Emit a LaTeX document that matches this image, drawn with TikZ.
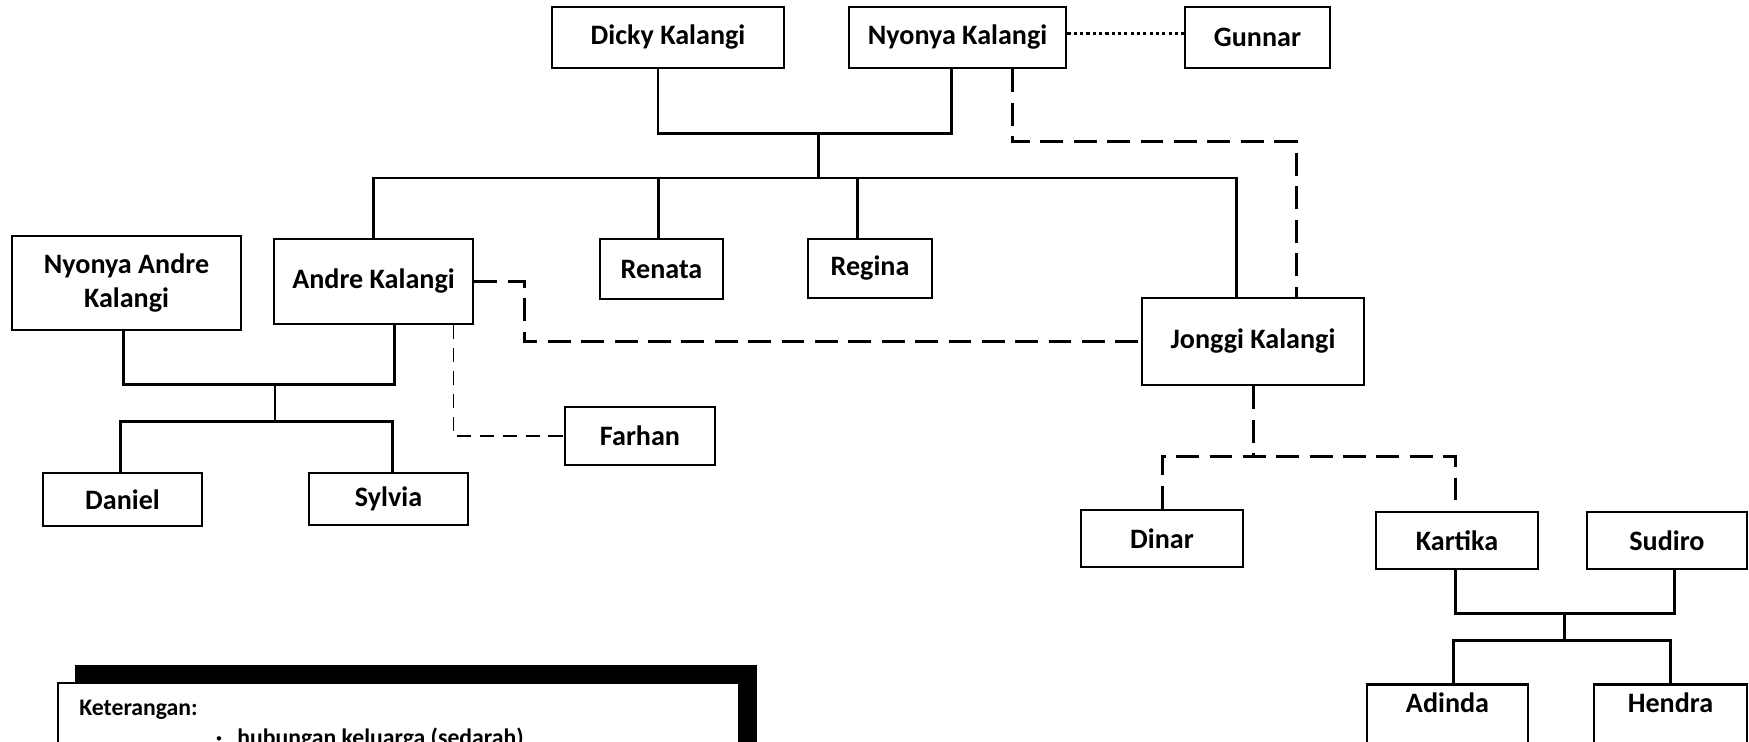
\documentclass[tikz,border=0pt]{standalone}
\usepackage{fontspec}
\setmainfont{Carlito}
\usetikzlibrary{calc}

\begin{document}
\begin{tikzpicture}[
    x=0.02cm, y=-0.02cm,
    person/.style={
        draw,
        line width=1.6pt,
        inner sep=0pt,
        align=center,
        font=\fontsize{16}{19}\selectfont\bfseries
    },
    famline/.style={line width=1.7pt},
    kin/.style={line width=1.7pt, dash pattern=on 13pt off 6pt},
    kinthin/.style={line width=1.1pt, dash pattern=on 8pt off 5pt},
    partner/.style={line width=2pt, dash pattern=on 1.8pt off 1.8pt},
    legendtext/.style={font=\fontsize{13.5}{16}\selectfont\bfseries, inner sep=0pt}
]

\useasboundingbox (0,0) rectangle (1749,741);
\clip (0,0) rectangle (1749,741);

% First generation and the partner outside the marriage.
\node[person, minimum width=4.64cm, minimum height=1.22cm] (dicky) at (668,37.5) {Dicky Kalangi};
\node[person, minimum width=4.34cm, minimum height=1.22cm] (nyonya) at (957.5,37.5) {Nyonya Kalangi};
\node[person, minimum width=2.90cm, minimum height=1.22cm] (gunnar) at (1257.5,37.5) {Gunnar};

% Children of Dicky and Nyonya Kalangi.
\node[person, minimum width=4.58cm, minimum height=1.88cm] (nyandre) at (126.5,283) {Nyonya Andre\\Kalangi};
\node[person, minimum width=3.98cm, minimum height=1.70cm] (andre) at (373.5,281.5) {Andre Kalangi};
\node[person, minimum width=2.46cm, minimum height=1.20cm] (renata) at (661.5,269) {Renata};
\node[person, minimum width=2.48cm, minimum height=1.18cm] (regina) at (870,268.5) {Regina};
\node[person, minimum width=4.44cm, minimum height=1.74cm] (jonggi) at (1253,341.5) {Jonggi Kalangi};

% Third generation.
\node[person, minimum width=3.00cm, minimum height=1.16cm] (farhan) at (640,436) {Farhan};
\node[person, minimum width=3.18cm, minimum height=1.06cm] (daniel) at (122.5,499.5) {Daniel};
\node[person, minimum width=3.18cm, minimum height=1.04cm] (sylvia) at (388.5,499) {Sylvia};
\node[person, minimum width=3.24cm, minimum height=1.14cm] (dinar) at (1162,538.5) {Dinar};
\node[person, minimum width=3.24cm, minimum height=1.14cm] (kartika) at (1457,540.5) {Kartika};
\node[person, minimum width=3.20cm, minimum height=1.14cm] (sudiro) at (1667,540.5) {Sudiro};

% Fourth generation, cut by the lower edge.
\node[person, minimum width=3.22cm, anchor=north, inner ysep=0.2cm,
      text height=0.37cm, text depth=0.9cm] (adinda) at (1447.5,683) {Adinda};
\node[person, minimum width=3.06cm, anchor=north, inner ysep=0.2cm,
      text height=0.37cm, text depth=0.9cm] (hendra) at (1670.5,683) {Hendra};

% Blood lines.
\coordinate (kalangi) at (818,132);
\coordinate (sibbar) at (818,178);
\draw[famline] ($(dicky.south)+(-10,0)$) |- ($(nyonya.south)+(-6,64)$) -- ($(nyonya.south)+(-6,0)$);
\draw[famline] (kalangi) -- (sibbar);
\draw[famline] (andre.north) |- (sibbar) -| ($(jonggi.north)+(-17,0)$);
\draw[famline] ($(renata.north)+(-3,0)$) -- +(0,-61);
\draw[famline] ($(regina.north)+(-13,0)$) -- +(0,-61);

\coordinate (andrejoin) at (275,383);
\coordinate (andrekids) at (275,421);
\draw[famline] ($(nyandre.south)+(-3,0)$) |- ($(andre.south)+(21,59)$) -- ($(andre.south)+(21,0)$);
\draw[famline] (andrejoin) -- (andrekids);
\draw[famline] ($(daniel.north)+(-2,0)$) |- (andrekids) -| ($(sylvia.north)+(4,0)$);

\coordinate (kartikajoin) at (1564,612);
\coordinate (kartikakids) at (1564,640);
\draw[famline] ($(kartika.south)+(-2,0)$) |- ($(sudiro.south)+(7,43)$) -- ($(sudiro.south)+(7,0)$);
\draw[famline] (kartikajoin) -- (kartikakids);
\draw[famline] ($(adinda.north)+(6,0)$) |- (kartikakids) -| (hendra.north);

% Relations outside the marriage.
\draw[partner] ($(nyonya.east)+(0,-4)$) -- ($(gunnar.west)+(0,-4)$);
\draw[kin] ($(nyonya.south)+(55,0)$) |- ($(jonggi.north)+(43,-155)$) -- ($(jonggi.north)+(43,0)$);
\draw[kin] (andre.east) -- ++(50,0) |- (jonggi.west);
\draw[kinthin] ($(andre.south)+(80,0)$) |- (farhan.west);

\coordinate (jonggikids) at (1253,456);
\draw[kin] (jonggi.south) -- (jonggikids);
\draw[kin] (dinar.north) |- (jonggikids) -| ($(kartika.north)+(-2,0)$);

% Legend with its heavy shadow.
\fill (75,665) rectangle (757,790);
\draw[line width=1.1pt, fill=white] (58,683) rectangle (739,790);
\node[legendtext, anchor=base west] (keterangan) at (79,715) {Keterangan:};
\node[legendtext, anchor=base] (dot) at (219,745) {\textperiodcentered};
\node[legendtext, anchor=base west] (sedarah) at (237,745) {hubungan keluarga (sedarah)};

\end{tikzpicture}
\end{document}
